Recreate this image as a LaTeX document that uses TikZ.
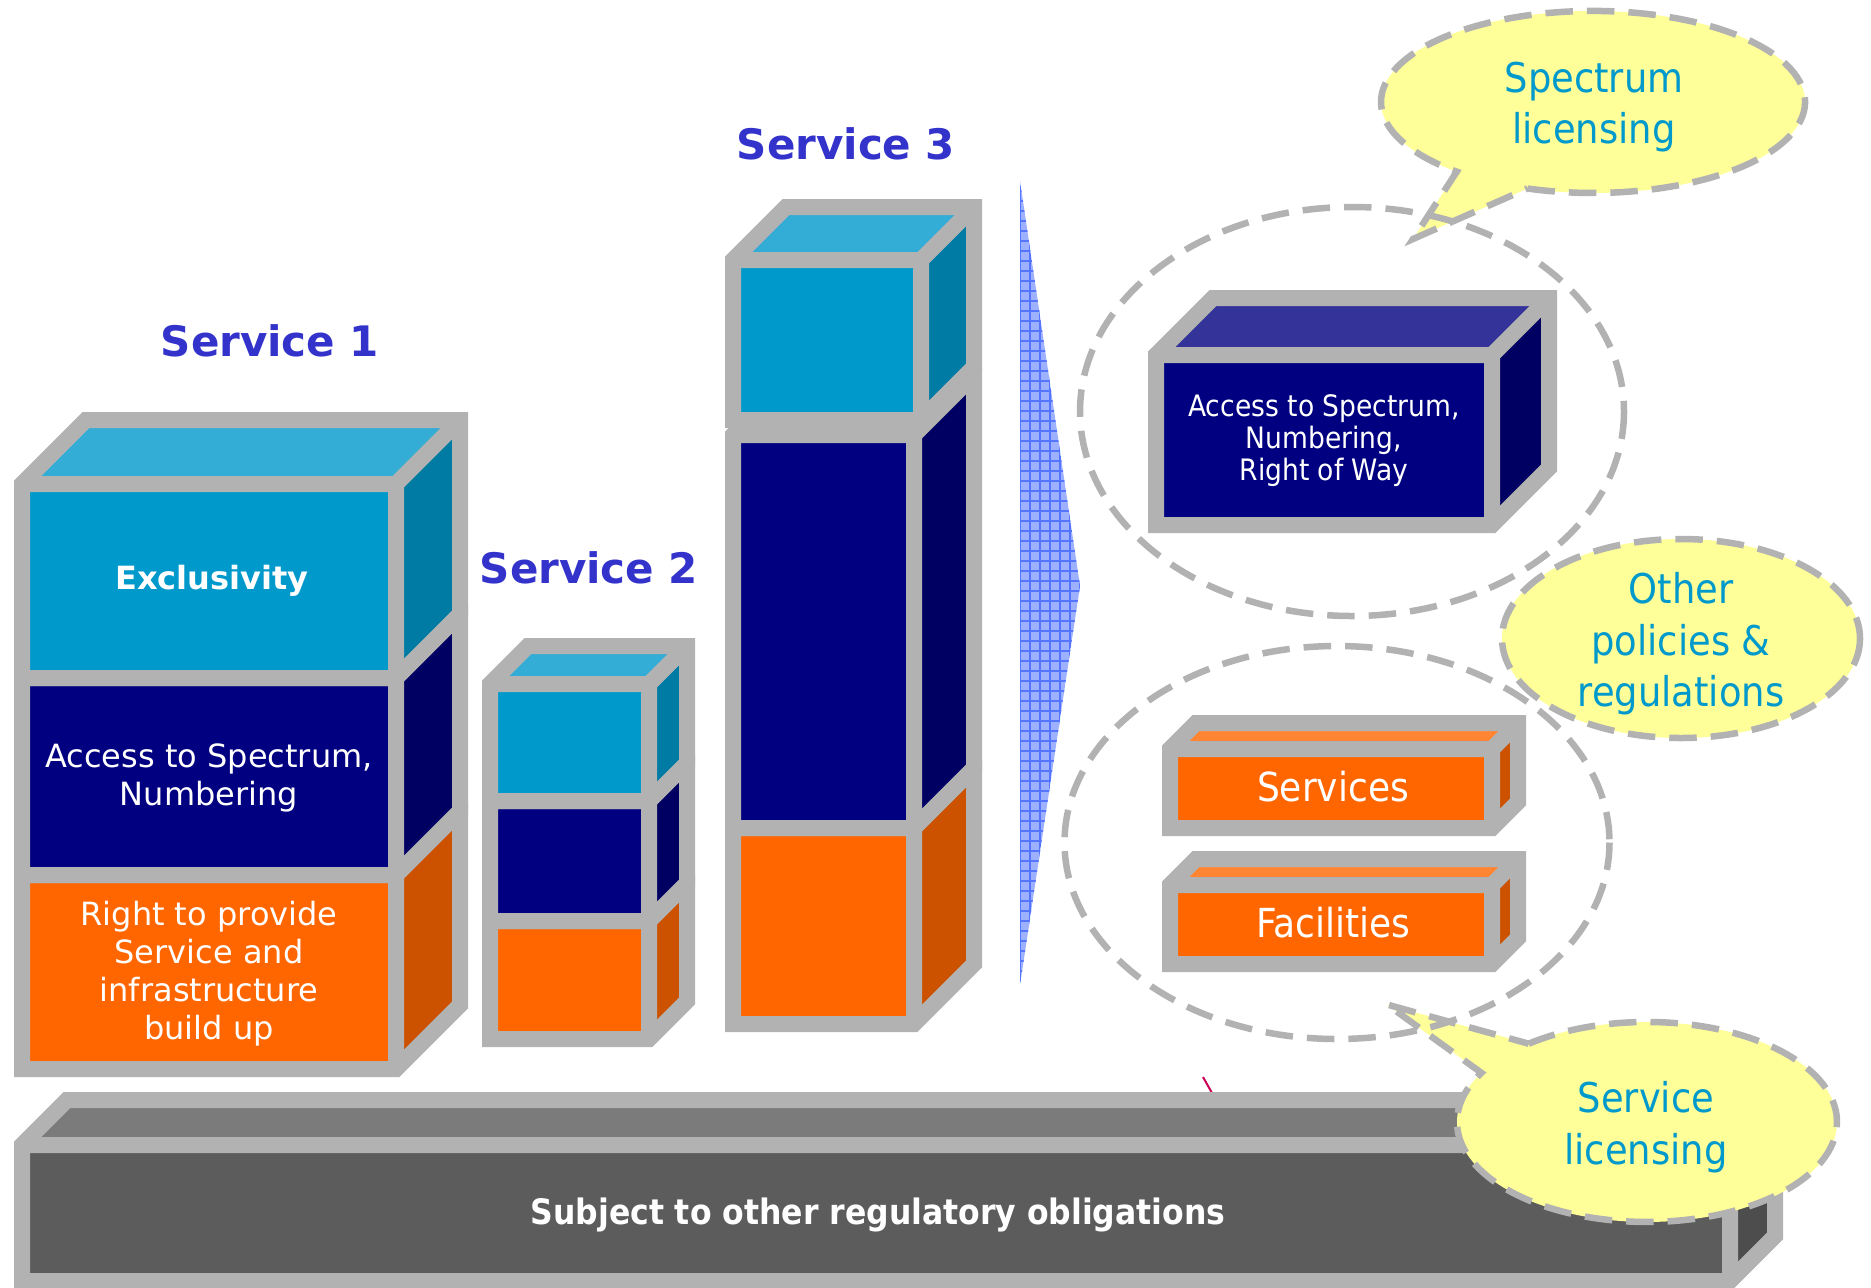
\documentclass[tikz,border=0pt]{standalone}
\usepackage{fontspec}
\setmainfont{DejaVu Sans}
\newfontfamily\condensed{DejaVu Sans Condensed}
\usetikzlibrary{positioning}

\definecolor{edgegray}{HTML}{B2B2B2}
\definecolor{cyanfront}{HTML}{0099CC}
\definecolor{cyanside}{HTML}{007BA3}
\definecolor{cyantop}{HTML}{33ACD6}
\definecolor{navyfront}{HTML}{000080}
\definecolor{navyside}{HTML}{000062}
\definecolor{navytop}{HTML}{333399}
\definecolor{orangefront}{HTML}{FF6600}
\definecolor{orangeside}{HTML}{CC5200}
\definecolor{orangetop}{HTML}{FF8533}
\definecolor{basefront}{HTML}{5C5C5C}
\definecolor{baseside}{HTML}{4D4D4D}
\definecolor{basetop}{HTML}{7B7B7B}
\definecolor{titleblue}{HTML}{3333CC}
\definecolor{calloutblue}{HTML}{0099CC}
\definecolor{bubbleyellow}{HTML}{FFFF99}
\definecolor{trifill}{HTML}{9DB1FF}
\definecolor{trigrid}{HTML}{5574FF}
\definecolor{strayred}{HTML}{CC0055}

% block: front face (#1,#2)-(#3,#4), depth #5, colours front/side/top
\newcommand{\cuboid}[8]{%
  \fill[#6] (#1,#2) rectangle (#3,#4);
  \fill[#8] (#1,#2) -- (#1+#5,#2-#5) -- (#3+#5,#2-#5) -- (#3,#2) -- cycle;
  \fill[#7] (#3,#2) -- (#3+#5,#2-#5) -- (#3+#5,#4-#5) -- (#3,#4) -- cycle;
  \draw[boxedge] (#1,#4) -- (#1,#2) -- (#1+#5,#2-#5) -- (#3+#5,#2-#5) -- (#3+#5,#4-#5) -- (#3,#4) -- cycle;
  \draw[boxedge] (#1,#2) -- (#3,#2) -- (#3,#4) (#3,#2) -- (#3+#5,#2-#5);
}

\begin{document}
\begin{tikzpicture}[x=0.4pt, y=-0.4pt,
    boxedge/.style={draw=edgegray, line width=6.4pt, line join=miter},
    dashring/.style={draw=edgegray, line width=2.6pt, dash pattern=on 11pt off 5.6pt},
    bubble/.style={dashring, fill=bubbleyellow},
    servtitle/.style={text=titleblue, font=\bfseries\fontsize{16.8}{20}\selectfont},
    panel/.style={text=white, align=center, font=\fontsize{12.8}{15.2}\selectfont},
    panelbold/.style={panel, font=\bfseries\fontsize{12.8}{15.2}\selectfont},
    bubbletext/.style={text=calloutblue, align=center, font=\condensed\fontsize{16.4}{20.6}\selectfont}]
  \useasboundingbox (0,0) rectangle (1871,1287);

  \draw[strayred, line width=0.8pt] (1203,1077) -- (1212,1093);

  % base bar
  \cuboid{22}{1145}{1730}{1281}{45}{basefront}{baseside}{basetop}
  \node[panelbold, font=\condensed\bfseries\fontsize{14}{17}\selectfont] (base) at (878,1215) {Subject to other regulatory obligations};

  % service 1
  \cuboid{22}{875}{396}{1069}{64}{orangefront}{orangeside}{orangetop}
  \cuboid{22}{678}{396}{875}{64}{navyfront}{navyside}{navytop}
  \cuboid{22}{484}{396}{678}{64}{cyanfront}{cyanside}{cyantop}
  \node[panelbold] (excl) at (212,581) {Exclusivity};
  \node[panel] (acc1) at (209,778) {Access to Spectrum,\\Numbering};
  \node[panel] (right) at (209,974) {Right to provide\\Service and\\infrastructure\\build up};
  \node[servtitle] (t1) at (270,341) {Service 1};

  % service 2
  \cuboid{490}{921}{649}{1039}{38}{orangefront}{orangeside}{orangetop}
  \cuboid{490}{801}{649}{921}{38}{navyfront}{navyside}{navytop}
  \cuboid{490}{684}{649}{801}{38}{cyanfront}{cyanside}{cyantop}
  \node[servtitle] (t2) at (589,568) {Service 2};

  % service 3
  \cuboid{733}{828}{914}{1024}{60}{orangefront}{orangeside}{orangetop}
  \cuboid{733}{435}{914}{828}{60}{navyfront}{navyside}{navytop}
  \cuboid{733}{260}{921}{420}{53}{cyanfront}{cyanside}{cyantop}
  \node[servtitle] (t3) at (846,144) {Service 3};

  % gridded wedge
  \begin{scope}
    \clip (1020,181) -- (1080,586) -- (1020,985) -- cycle;
    \fill[trifill] (1015,175) rectangle (1090,990);
    \foreach \gx in {1020,1030,...,1080}
      \draw[trigrid, line width=0.6pt] (\gx,175) -- (\gx,990);
    \foreach \gy in {181,191,...,985}
      \draw[trigrid, line width=0.6pt] (1015,\gy) -- (1090,\gy);
  \end{scope}

  % right hand blocks
  \cuboid{1156}{355}{1492}{525}{57}{navyfront}{navyside}{navytop}
  \node[panel, font=\condensed\fontsize{11.8}{12.8}\selectfont] (acc2) at (1324,441) {Access to Spectrum,\\Numbering,\\Right of Way};
  \cuboid{1170}{749}{1492}{828}{26}{orangefront}{orangeside}{orangetop}
  \node[panel, font=\condensed\fontsize{16}{19}\selectfont] (serv) at (1333,787) {Services};
  \cuboid{1170}{885}{1492}{964}{26}{orangefront}{orangeside}{orangetop}
  \node[panel, font=\condensed\fontsize{16}{19}\selectfont] (fac) at (1333,923) {Facilities};

  % callouts
  \draw[bubble] (1527.5,188.5) arc[start angle=108, end angle=-230, x radius=212, y radius=91] -- (1413,239) -- cycle;
  \node[bubbletext] (spec) at (1594,107) {Spectrum\\licensing};
  \draw[bubble] (1681,638.5) ellipse [x radius=179, y radius=99.5];
  \node[bubbletext] (other) at (1681,644) {Other\\policies \&\\regulations};
  \draw[bubble] (1528.7,1043.7) arc[start angle=231.5, end angle=569.4, x radius=190, y radius=100] -- (1387,1004.5) -- cycle;
  \node[bubbletext] (slic) at (1646,1127) {Service\\licensing};

  % groupings
  \draw[dashring] (1352,411.5) ellipse [x radius=272, y radius=204.5];
  \draw[dashring] (1337,842.5) ellipse [x radius=272.5, y radius=196.5];
\end{tikzpicture}
\end{document}
